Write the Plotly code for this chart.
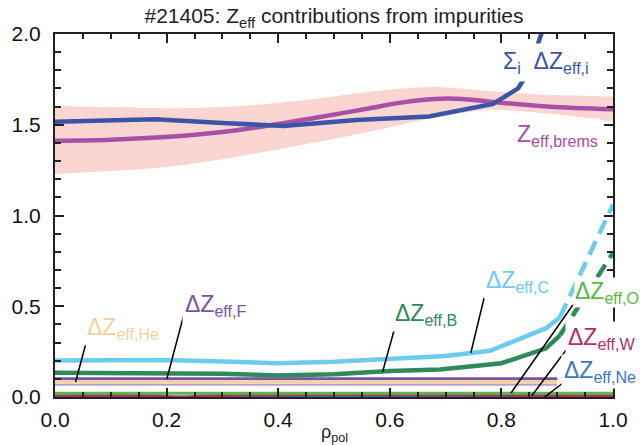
import plotly.graph_objects as go

# ---------------- data ----------------
rho_sum = [0.0, 0.18, 0.30, 0.41, 0.54, 0.67, 0.785, 0.83, 0.85, 0.87, 0.88]
zeff_sum = [1.517, 1.530, 1.510, 1.493, 1.526, 1.545, 1.615, 1.700, 1.800, 2.00, 2.08]

rho_brems = [0.0, 0.10, 0.205, 0.30, 0.377, 0.47, 0.564, 0.62, 0.68, 0.73, 0.78, 0.887, 1.0]
zeff_brems = [1.412, 1.418, 1.434, 1.460, 1.493, 1.540, 1.591, 1.622, 1.642, 1.642, 1.627, 1.599, 1.585]
brems_upper = [1.603, 1.598, 1.591, 1.598, 1.614, 1.645, 1.682, 1.700, 1.710, 1.700, 1.685, 1.665, 1.655]
brems_lower = [1.229, 1.245, 1.269, 1.310, 1.351, 1.405, 1.462, 1.500, 1.540, 1.565, 1.583, 1.560, 1.517]

rho_c = [0.0, 0.1, 0.2, 0.3, 0.4, 0.5, 0.6, 0.7, 0.78, 0.88, 0.905]
dz_c = [0.201, 0.203, 0.204, 0.196, 0.186, 0.194, 0.212, 0.226, 0.255, 0.379, 0.44]
rho_c_edge = [0.905, 1.0]
dz_c_edge = [0.44, 1.06]

rho_b = [0.0, 0.2, 0.3, 0.4, 0.5, 0.6, 0.69, 0.80, 0.88, 0.905]
dz_b = [0.134, 0.134, 0.128, 0.118, 0.126, 0.143, 0.152, 0.186, 0.268, 0.34]
rho_b_edge = [0.905, 1.0]
dz_b_edge = [0.34, 0.795]

rho_core = [0.0, 0.9]
dz_f = [0.100, 0.100]
dz_he = [0.082, 0.082]
dz_lav = [0.068, 0.068]

rho_full = [0.0, 1.0]
dz_o = [0.020, 0.020]
rho_w = [0.0, 0.18, 0.21, 0.24, 0.27, 1.0]
dz_w = [0.007, 0.007, 0.0, 0.0, 0.007, 0.007]
dz_ne = [0.0, 0.0]

x_ticks = [0.0, 0.2, 0.4, 0.6, 0.8, 1.0]
y_ticks = [0.0, 0.5, 1.0, 1.5, 2.0]

# ---------------- geometry helpers ----------------
W, H = 640, 445
L, R, T, B = 47, 616, 34, 397
XR = [0.0, 1.0]
YR = [0.0, 2.0]


def px2x(px):
    return XR[0] + (px - L) / (R - L) * (XR[1] - XR[0])


def py2y(py):
    return YR[1] - (py - T) / (B - T) * (YR[1] - YR[0])


FONT = "Liberation Sans, Arial, Helvetica, sans-serif"

C_SUM = "#3a55a5"
C_BREMS = "#a650a6"
C_BAND = "#fbd6d1"
C_C = "#6dcbef"
C_B = "#2e8a5a"
C_F = "#7c52a2"
C_HE = "#f3d3a1"
C_LAV = "#b9a0c8"
C_O = "#5ab847"
C_W = "#b22e66"
C_NE = "#3b78c2"

fig = go.Figure()

# uncertainty band of Zeff,brems
fig.add_trace(go.Scatter(x=rho_brems, y=brems_upper, mode="lines", line=dict(width=0, shape="spline", smoothing=0.8),
                         hoverinfo="skip", showlegend=False))
fig.add_trace(go.Scatter(x=rho_brems, y=brems_lower, mode="lines", line=dict(width=0, shape="spline", smoothing=0.8),
                         fill="tonexty", fillcolor=C_BAND, hoverinfo="skip", showlegend=False))

# bottom flat contributions
fig.add_trace(go.Scatter(x=rho_full, y=dz_ne, mode="lines", line=dict(color=C_NE, width=3), showlegend=False))
fig.add_trace(go.Scatter(x=rho_w, y=dz_w, mode="lines", line=dict(color=C_W, width=3, shape="spline"), showlegend=False))
fig.add_trace(go.Scatter(x=rho_full, y=dz_o, mode="lines", line=dict(color=C_O, width=3), showlegend=False))
fig.add_trace(go.Scatter(x=rho_core, y=dz_lav, mode="lines", line=dict(color=C_LAV, width=2), showlegend=False))
fig.add_trace(go.Scatter(x=rho_core, y=dz_f, mode="lines", line=dict(color=C_F, width=3), showlegend=False))
fig.add_trace(go.Scatter(x=rho_core, y=dz_he, mode="lines", line=dict(color=C_HE, width=3.5), showlegend=False))

# B and C
fig.add_trace(go.Scatter(x=rho_b, y=dz_b, mode="lines", line=dict(color=C_B, width=4.5), showlegend=False))
fig.add_trace(go.Scatter(x=rho_b_edge, y=dz_b_edge, mode="lines", line=dict(color=C_B, width=4.5, dash="15px,8px"),
                         showlegend=False))
fig.add_trace(go.Scatter(x=rho_c, y=dz_c, mode="lines", line=dict(color=C_C, width=4.5), showlegend=False))
fig.add_trace(go.Scatter(x=rho_c_edge, y=dz_c_edge, mode="lines", line=dict(color=C_C, width=4.5, dash="15px,8px"),
                         showlegend=False))

# Zeff brems and sum
fig.add_trace(go.Scatter(x=rho_brems, y=zeff_brems, mode="lines",
                         line=dict(color=C_BREMS, width=4.5, shape="spline", smoothing=0.8), showlegend=False))
fig.add_trace(go.Scatter(x=rho_sum, y=zeff_sum, mode="lines", line=dict(color=C_SUM, width=4.5), showlegend=False))

# ---------------- labels ----------------
labels = [
    # text, color, left px, center py, border pad
    ("ΔZ<sub>eff,He</sub>", C_HE, 79, 328, 2),
    ("ΔZ<sub>eff,F</sub>", C_F, 178, 305, 2),
    ("ΔZ<sub>eff,B</sub>", C_B, 393, 314, 2),
    ("ΔZ<sub>eff,C</sub>", C_C, 485, 281, 2),
    ("ΔZ<sub>eff,O</sub>", C_O, 576, 292, 0),
    ("ΔZ<sub>eff,W</sub>", C_W, 569, 338, 2),
    ("ΔZ<sub>eff,Ne</sub>", C_NE, 565, 371, 2),
    ("Σ<sub>i</sub>&nbsp; ΔZ<sub>eff,i</sub>", C_SUM, 503, 62, 4),
    ("Z<sub>eff,brems</sub>", C_BREMS, 517, 135, 2),
]
annotations = []
for txt, col, lx, cy, pad in labels:
    annotations.append(dict(
        x=px2x(lx) - pad / (R - L), y=py2y(cy), xref="x", yref="y", text=txt, showarrow=False,
        xanchor="left", yanchor="middle", font=dict(family=FONT, size=23, color=col),
        bgcolor="white", borderpad=pad,
    ))

# leader lines (pixel endpoints of the callouts)
leaders = [
    (80, 338, 68, 382),
    (178, 316, 161, 379),
    (394, 326, 381, 372),
    (486, 292, 471, 353),
    (575, 305, 512, 393),
    (569, 349, 533, 396),
    (565, 383, 545, 398),
]
shapes = []
for x0, y0, x1, y1 in leaders:
    shapes.append(dict(type="line", xref="x", yref="y", x0=px2x(x0), y0=py2y(y0), x1=px2x(x1), y1=py2y(y1),
                       line=dict(color="black", width=1.5), layer="above"))

# x-axis title as annotation
annotations.append(dict(x=0.5, y=(B - 433) / (B - T), xref="paper", yref="paper", showarrow=False,
                        text="ρ<sub>pol</sub>", font=dict(family=FONT, size=18, color="#222"),
                        xanchor="center", yanchor="middle"))

axis_common = dict(showline=True, linecolor="#222", linewidth=2, mirror="ticks", ticks="inside",
                   tickcolor="#222", tickwidth=1.5, ticklen=9, showgrid=False, zeroline=False,
                   tickfont=dict(family=FONT, size=21, color="#111"), tickformat=".1f")

fig.update_layout(
    width=W, height=H,
    margin=dict(l=L, r=W - R, t=T, b=H - B, pad=0),
    paper_bgcolor="white", plot_bgcolor="white",
    title=dict(text="#21405: Z<sub>eff</sub> contributions from impurities", x=0.5, xref="paper",
               y=1 - 16 / H, yref="container", xanchor="center", yanchor="middle",
               font=dict(family=FONT, size=21, color="#222")),
    xaxis=dict(range=XR, tickvals=x_ticks, minor=dict(dtick=0.05, ticks="inside", ticklen=5, tickcolor="#222", tickwidth=1.5),
               ticklabelstandoff=3, **axis_common),
    yaxis=dict(range=YR, tickvals=y_ticks, minor=dict(dtick=0.1, ticks="inside", ticklen=6, tickcolor="#222", tickwidth=1.5),
               ticklabelstandoff=8, **axis_common),
    annotations=annotations,
    shapes=shapes,
    showlegend=False,
)

fig.write_html("out.html")
